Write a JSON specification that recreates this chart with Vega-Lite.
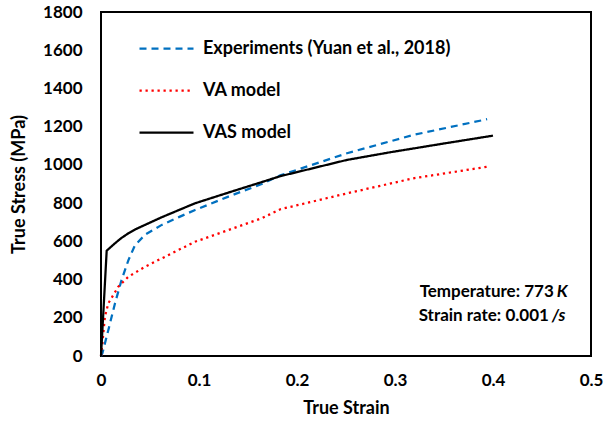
{
  "$schema": "https://vega.github.io/schema/vega-lite/v6.json",
  "width": 490,
  "height": 344,
  "autosize": {"type": "none"},
  "padding": {"left": 101, "top": 12, "right": 14, "bottom": 68},
  "config": {
    "view": {"stroke": "black", "strokeWidth": 2},
    "font": "Lato",
    "axis": {"grid": false, "ticks": false, "domain": false, "labelOverlap": false, "labelFont": "Lato", "labelFontWeight": "bold", "labelFontSize": 17, "labelColor": "black", "titleFont": "Lato", "titleFontWeight": "bold", "titleFontSize": 18, "titleColor": "black"},
    "text": {"baseline": "middle", "font": "Lato", "fontWeight": "bold", "fontSize": 17, "color": "black"}
  },
  "data": {"values": [
    {"series": "Experiments (Yuan et al., 2018)", "strain": 0, "stress": 0},
    {"series": "Experiments (Yuan et al., 2018)", "strain": 0.0014, "stress": 14},
    {"series": "Experiments (Yuan et al., 2018)", "strain": 0.0075, "stress": 136},
    {"series": "Experiments (Yuan et al., 2018)", "strain": 0.0143, "stress": 276},
    {"series": "Experiments (Yuan et al., 2018)", "strain": 0.021, "stress": 398},
    {"series": "Experiments (Yuan et al., 2018)", "strain": 0.028, "stress": 502},
    {"series": "Experiments (Yuan et al., 2018)", "strain": 0.0347, "stress": 580},
    {"series": "Experiments (Yuan et al., 2018)", "strain": 0.045, "stress": 635},
    {"series": "Experiments (Yuan et al., 2018)", "strain": 0.062, "stress": 686},
    {"series": "Experiments (Yuan et al., 2018)", "strain": 0.08, "stress": 728},
    {"series": "Experiments (Yuan et al., 2018)", "strain": 0.096, "stress": 764},
    {"series": "Experiments (Yuan et al., 2018)", "strain": 0.13, "stress": 834},
    {"series": "Experiments (Yuan et al., 2018)", "strain": 0.164, "stress": 900},
    {"series": "Experiments (Yuan et al., 2018)", "strain": 0.183, "stress": 945},
    {"series": "Experiments (Yuan et al., 2018)", "strain": 0.251, "stress": 1061},
    {"series": "Experiments (Yuan et al., 2018)", "strain": 0.319, "stress": 1157},
    {"series": "Experiments (Yuan et al., 2018)", "strain": 0.394, "stress": 1239},
    {"series": "VA model", "strain": 0, "stress": 0},
    {"series": "VA model", "strain": 0.0014, "stress": 66},
    {"series": "VA model", "strain": 0.004, "stress": 206},
    {"series": "VA model", "strain": 0.0075, "stress": 276},
    {"series": "VA model", "strain": 0.0177, "stress": 363},
    {"series": "VA model", "strain": 0.028, "stress": 415},
    {"series": "VA model", "strain": 0.045, "stress": 467},
    {"series": "VA model", "strain": 0.062, "stress": 511},
    {"series": "VA model", "strain": 0.096, "stress": 598},
    {"series": "VA model", "strain": 0.13, "stress": 659},
    {"series": "VA model", "strain": 0.164, "stress": 721},
    {"series": "VA model", "strain": 0.183, "stress": 768},
    {"series": "VA model", "strain": 0.251, "stress": 851},
    {"series": "VA model", "strain": 0.319, "stress": 930},
    {"series": "VA model", "strain": 0.395, "stress": 991},
    {"series": "VAS model", "strain": 0, "stress": 0},
    {"series": "VAS model", "strain": 0.0058, "stress": 551},
    {"series": "VAS model", "strain": 0.0143, "stress": 590},
    {"series": "VAS model", "strain": 0.021, "stress": 618},
    {"series": "VAS model", "strain": 0.0279, "stress": 642},
    {"series": "VAS model", "strain": 0.036, "stress": 665},
    {"series": "VAS model", "strain": 0.0449, "stress": 686},
    {"series": "VAS model", "strain": 0.0619, "stress": 726},
    {"series": "VAS model", "strain": 0.0959, "stress": 799},
    {"series": "VAS model", "strain": 0.13, "stress": 855},
    {"series": "VAS model", "strain": 0.164, "stress": 910},
    {"series": "VAS model", "strain": 0.183, "stress": 941},
    {"series": "VAS model", "strain": 0.251, "stress": 1026},
    {"series": "VAS model", "strain": 0.295, "stress": 1066},
    {"series": "VAS model", "strain": 0.35, "stress": 1112},
    {"series": "VAS model", "strain": 0.4, "stress": 1153}
  ]},
  "layer": [
    {
      "mark": {"type": "line", "strokeWidth": 2.25},
      "encoding": {
        "x": {"field": "strain", "type": "quantitative", "title": "True Strain",
              "scale": {"domain": [0, 0.5], "nice": false},
              "axis": {"values": [0, 0.1, 0.2, 0.3, 0.4, 0.5], "format": "~g", "labelPadding": 16, "titlePadding": 11, "labelFlush": false, "labelOverlap": false, "tickCount": 6}},
        "y": {"field": "stress", "type": "quantitative", "title": "True Stress (MPa)",
              "scale": {"domain": [0, 1800], "nice": false},
              "axis": {"values": [0, 200, 400, 600, 800, 1000, 1200, 1400, 1600, 1800], "format": "d", "labelPadding": 19, "titlePadding": 14, "labelFlush": false, "labelOverlap": false, "labelBound": false, "tickCount": 10}},
        "color": {"field": "series", "type": "nominal",
                  "scale": {"domain": ["Experiments (Yuan et al., 2018)", "VA model", "VAS model"], "range": ["#0070C0", "#FF0000", "#000000"]},
                  "legend": {"orient": "none", "legendX": 37, "legendY": 8, "title": null, "symbolType": "stroke", "symbolSize": 2916, "symbolStrokeWidth": 2.25, "labelOffset": 8, "labelFont": "Lato", "labelFontWeight": "bold", "labelFontSize": 18, "labelColor": "black", "rowPadding": 4, "padding": 0, "labelLimit": 400}},
        "strokeDash": {"field": "series", "type": "nominal",
                  "scale": {"domain": ["Experiments (Yuan et al., 2018)", "VA model", "VAS model"], "range": [[7, 5], [2.25, 3.75], [1, 0]]}},
        "order": {"field": "strain", "type": "quantitative"}
      }
    },
    {
      "data": {"values": [{"note": "Temperature: 773", "italic": "K"}]},
      "encoding": {
        "x": {"datum": 0.462, "type": "quantitative", "title": "True Strain",
              "axis": {"values": [0, 0.1, 0.2, 0.3, 0.4, 0.5], "format": "~g", "labelPadding": 16, "titlePadding": 11, "labelFlush": false, "labelOverlap": false, "tickCount": 6}},
        "y": {"datum": 335, "type": "quantitative", "title": "True Stress (MPa)",
              "axis": {"values": [0, 200, 400, 600, 800, 1000, 1200, 1400, 1600, 1800], "format": "d", "labelPadding": 19, "titlePadding": 14, "labelFlush": false, "labelOverlap": false, "labelBound": false, "tickCount": 10}}
      },
      "layer": [
        {"mark": {"type": "text", "align": "right"}, "encoding": {"text": {"field": "note"}}},
        {"mark": {"type": "text", "align": "left", "fontStyle": "italic", "dx": 3}, "encoding": {"text": {"field": "italic"}}}
      ]
    },
    {
      "data": {"values": [{"note": "Strain rate: 0.001", "italic": "/s"}]},
      "encoding": {
        "x": {"datum": 0.457, "type": "quantitative", "title": "True Strain",
              "axis": {"values": [0, 0.1, 0.2, 0.3, 0.4, 0.5], "format": "~g", "labelPadding": 16, "titlePadding": 11, "labelFlush": false, "labelOverlap": false, "tickCount": 6}},
        "y": {"datum": 209, "type": "quantitative", "title": "True Stress (MPa)",
              "axis": {"values": [0, 200, 400, 600, 800, 1000, 1200, 1400, 1600, 1800], "format": "d", "labelPadding": 19, "titlePadding": 14, "labelFlush": false, "labelOverlap": false, "labelBound": false, "tickCount": 10}}
      },
      "layer": [
        {"mark": {"type": "text", "align": "right"}, "encoding": {"text": {"field": "note"}}},
        {"mark": {"type": "text", "align": "left", "fontStyle": "italic", "dx": 3}, "encoding": {"text": {"field": "italic"}}}
      ]
    }
  ]
}
